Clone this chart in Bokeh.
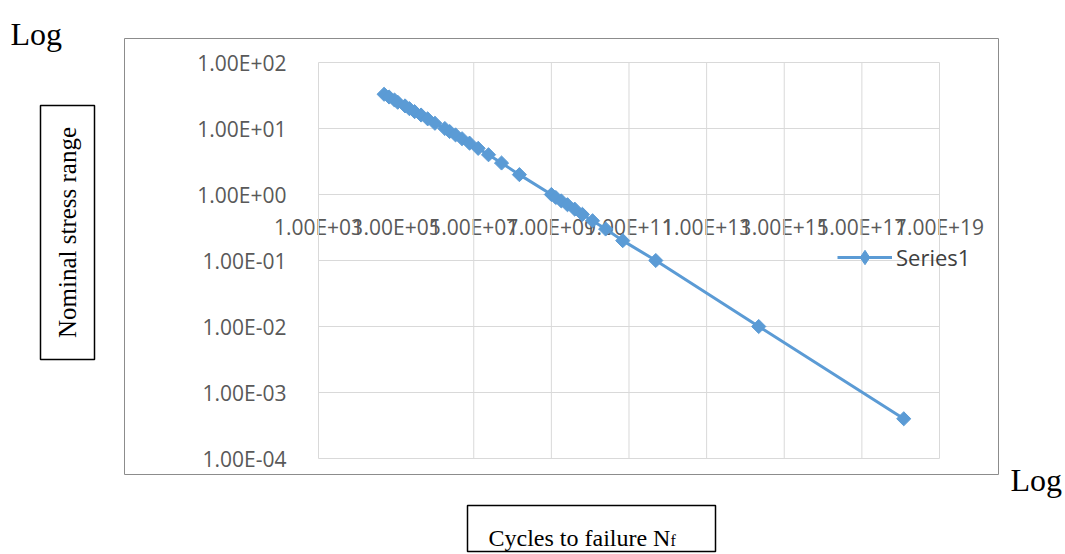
import math
from bokeh.plotting import figure
from bokeh.models import (Range1d, FixedTicker, Label, BoxAnnotation, Legend,
                          LegendItem)
from bokeh.embed import file_html
from bokeh.resources import INLINE

# ---- data ----
stress_range = [33, 30, 27, 25, 22, 20, 18, 16, 14, 12, 10, 9, 8, 7, 6, 5, 4, 3, 2,
                1, 0.9, 0.8, 0.7, 0.6, 0.5, 0.4, 0.3, 0.2, 0.1, 0.01, 0.0004]
cycles = [4.9e4, 6.6e4, 9.1e4, 1.1e5, 1.7e5, 2.2e5, 3.0e5, 4.4e5, 6.5e5, 1.0e6,
          1.8e6, 2.4e6, 3.4e6, 5.0e6, 7.8e6, 1.3e7, 2.4e7, 5.2e7, 1.5e8,
          1.0e9, 1.3e9, 1.8e9, 2.6e9, 4.0e9, 6.3e9, 1.15e10, 2.5e10, 6.9e10,
          4.9e11, 2.2e14, 1.2e18]
series_name = "Series1"

x_ticks = [1e3, 1e5, 1e7, 1e9, 1e11, 1e13, 1e15, 1e17, 1e19]
x_tick_labels = ["1.00E+03", "1.00E+05", "1.00E+07", "1.00E+09", "1.00E+11",
                 "1.00E+13", "1.00E+15", "1.00E+17", "1.00E+19"]
x_grid_ticks = [1e7, 1e9, 1e11, 1e13, 1e15, 1e17, 1e19]
y_ticks = [1e-4, 1e-3, 1e-2, 1e-1, 1e0, 1e1, 1e2]
y_tick_labels = ["1.00E-04", "1.00E-03", "1.00E-02", "1.00E-01", "1.00E+00",
                 "1.00E+01", "1.00E+02"]

BLUE = "#5b9bd5"
GRID = "#d9d9d9"
TICK_TXT = "#595959"

W, H = 1065, 554
# The frame spans the whole canvas; the plot area (1e3..1e19, 1e-4..1e2)
# sits inside it at x 318..939, y 62..458 px.
X_LOG_MIN, X_LOG_MAX = -5.1932, 22.2464
Y_LOG_MIN, Y_LOG_MAX = -5.4545, 2.9394

p = figure(x_axis_type="log", y_axis_type="log",
           x_range=Range1d(10 ** X_LOG_MIN, 10 ** X_LOG_MAX),
           y_range=Range1d(10 ** Y_LOG_MIN, 10 ** Y_LOG_MAX),
           frame_width=W, frame_height=H,
           min_border=0, min_border_left=0, min_border_right=0,
           min_border_top=0, min_border_bottom=0,
           output_backend="svg", toolbar_location=None,
           background_fill_color="white", border_fill_color="white",
           outline_line_color=None)
p.xgrid.visible = False
p.ygrid.visible = False

# gridlines of the plot area, from the tick arrays
nx = len(x_grid_ticks)
p.segment(x0=x_grid_ticks, y0=[y_ticks[0]] * nx, x1=x_grid_ticks,
          y1=[y_ticks[-1]] * nx, line_color=GRID, line_width=1)
ny = len(y_ticks)
p.segment(x0=[x_ticks[0]] * ny, y0=y_ticks, x1=[x_ticks[-1]] * ny, y1=y_ticks,
          line_color=GRID, line_width=1)

# x axis crossing at y = 1
xa = p.xaxis[0]
xa.ticker = FixedTicker(ticks=x_ticks)
xa.major_label_overrides = dict(zip(x_ticks, x_tick_labels))
xa.fixed_location = 1
xa.bounds = (x_ticks[0], x_ticks[-1])
xa.level = "underlay"
xa.axis_line_color = None
xa.major_tick_line_color = None
xa.minor_tick_line_color = None
xa.major_label_standoff = 12
xa.major_label_text_font = "Open Sans"
xa.major_label_text_font_size = "21px"
xa.major_label_text_color = TICK_TXT

ya = p.yaxis[0]
ya.ticker = FixedTicker(ticks=y_ticks)
ya.major_label_overrides = dict(zip(y_ticks, y_tick_labels))
ya.fixed_location = x_ticks[0]
ya.bounds = (y_ticks[0], y_ticks[-1])
ya.axis_line_color = GRID
ya.major_tick_line_color = None
ya.minor_tick_line_color = None
ya.major_label_standoff = 26
ya.major_label_text_font = "Open Sans"
ya.major_label_text_font_size = "21px"
ya.major_label_text_color = TICK_TXT

# series
r_line = p.line(cycles, stress_range, line_color=BLUE, line_width=3)
r_mark = p.scatter(cycles, stress_range, marker="square", angle=math.pi / 4,
                   size=10, fill_color=BLUE, line_color=BLUE)
# legend key marker (diamond, as in the reference legend); hidden on the plot
r_key = p.scatter(cycles[:1], stress_range[:1], marker="diamond",
                  fill_color=BLUE, line_color=BLUE, visible=False)

legend = Legend(items=[LegendItem(label=series_name, renderers=[r_line, r_key])],
                location=(837, 279), padding=0, margin=0, spacing=0,
                glyph_width=55, glyph_height=36, label_standoff=4,
                label_text_font="Open Sans", label_text_font_size="22px",
                label_text_color="#404040", border_line_color=None,
                background_fill_alpha=0)
p.add_layout(legend)


def sbox(left, right, bottom, top, color, width):
    return BoxAnnotation(left=left, right=right, bottom=bottom, top=top,
                         left_units="screen", right_units="screen",
                         bottom_units="screen", top_units="screen",
                         fill_color=None, fill_alpha=0,
                         line_color=color, line_alpha=1.0, line_width=width)


# chart-area border
p.add_layout(sbox(124, 998, 80, 516, "#8c8c8c", 1))

# boxed axis titles
p.add_layout(sbox(40, 94, 195, 449, "black", 1.5))
p.add_layout(Label(x=67, y=322, x_units="screen", y_units="screen",
                   text="Nominal stress range", angle=math.pi / 2,
                   text_align="center", text_baseline="middle",
                   text_font="Liberation Serif", text_font_size="25px",
                   text_color="black"))

p.add_layout(sbox(467, 715, 3, 49, "black", 1.5))
p.add_layout(Label(x=488, y=17, x_units="screen", y_units="screen",
                   text="Cycles to failure N", text_align="left",
                   text_baseline="alphabetic", text_font="Liberation Serif",
                   text_font_size="24px", text_color="black"))
p.add_layout(Label(x=670, y=14, x_units="screen", y_units="screen",
                   text="f", text_align="left", text_baseline="alphabetic",
                   text_font="Liberation Serif", text_font_size="16px",
                   text_color="black"))

# "Log" notes
p.add_layout(Label(x=10, y=521, x_units="screen", y_units="screen",
                   text="Log", text_align="left", text_baseline="alphabetic",
                   text_font="Liberation Serif", text_font_size="32px",
                   text_color="black"))
p.add_layout(Label(x=1010, y=75, x_units="screen", y_units="screen",
                   text="Log", text_align="left", text_baseline="alphabetic",
                   text_font="Liberation Serif", text_font_size="32px",
                   text_color="black"))

open("out.html", "w").write(file_html(p, INLINE))
